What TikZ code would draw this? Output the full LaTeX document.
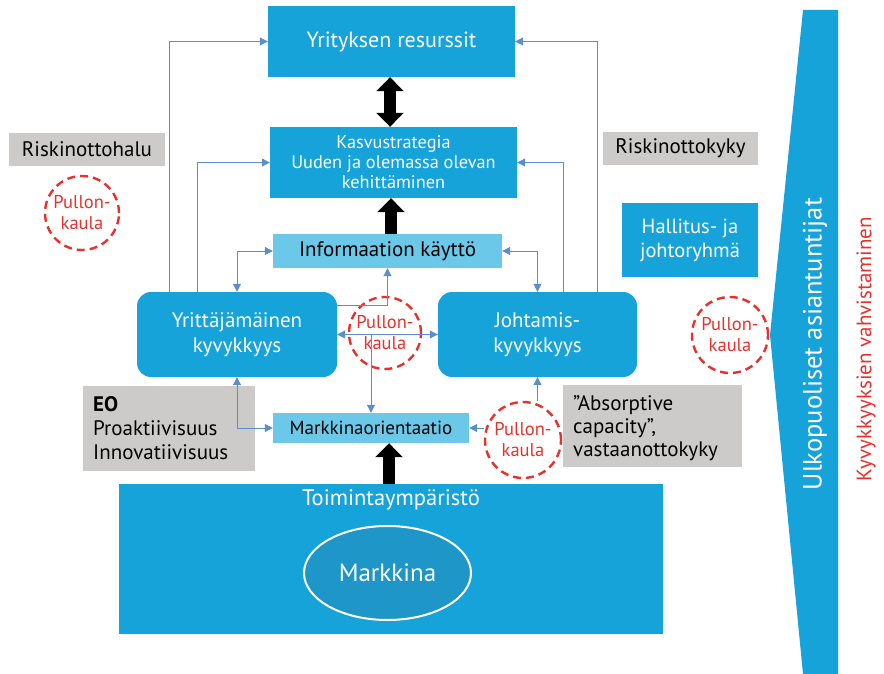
\documentclass[tikz,border=0pt]{standalone}
\usepackage{fontspec}
\setmainfont{PT Sans}
\usetikzlibrary{arrows.meta,shapes.geometric}

\definecolor{kblue}{RGB}{21,163,218}
\definecolor{klight}{RGB}{108,200,232}
\definecolor{kgray}{RGB}{204,203,202}
\definecolor{kline}{RGB}{91,143,201}
\definecolor{kred}{RGB}{232,49,45}
\definecolor{kdark}{RGB}{30,150,200}

\begin{document}
\begin{tikzpicture}[x=1pt, y=-1pt, inner sep=0pt,
    box/.style={rectangle, fill=kblue, text=white, align=center},
    lbox/.style={rectangle, fill=klight, text=black, align=center},
    gbox/.style={rectangle, fill=kgray, text=black},
    rbox/.style={rectangle, rounded corners=14pt, fill=kblue, text=white, align=center,
                 minimum width=200pt, minimum height=85pt, font=\fontsize{21}{25}\selectfont},
    neck/.style={circle, draw=kred, line width=2.4pt, dash pattern=on 8pt off 5pt,
                 text=kred, align=center, font=\fontsize{18.5}{21}\selectfont},
    conn/.style={draw=kline, line width=1pt, >={Triangle[width=8pt,length=8pt]}},
    bigarrow/.style={line width=12pt, >={Triangle[width=27pt,length=14pt]}}]
    \useasboundingbox (0,0) rectangle (884,674);

    % side wedge
    \fill[kblue] (803,10) -- (838,10) -- (838,674) -- (803,674) -- (770,335) -- cycle;
    \node (ulko) at (815,344) [rotate=90, text=white, font=\fontsize{26.5}{30}\selectfont] {Ulkopuoliset asiantuntijat};
    \node (vahv) at (866,349) [rotate=90, text=kred, font=\fontsize{21}{24}\selectfont] {Kyvykkyyksien vahvistaminen};

    % main boxes
    \node (res) at (391.5,41.5) [box, minimum width=247pt, minimum height=71pt, font=\fontsize{22}{26}\selectfont] {Yrityksen resurssit};
    \node (kasvu) at (393.5,162.5) [box, minimum width=247pt, minimum height=71pt, font=\fontsize{18.3}{20}\selectfont]
        {Kasvustrategia\\Uuden ja olemassa olevan\\kehittäminen};
    \node (info) at (387.5,251) [lbox, minimum width=229pt, minimum height=34pt, font=\fontsize{21}{24}\selectfont] {Informaation käyttö};
    \node (yritt) at (237,334.5) [rbox] {Yrittäjämäinen\\kyvykkyys};
    \node (johto) at (537.5,334.5) [rbox, minimum width=199pt] {Johtamis-\\kyvykkyys};
    \node (markkor) at (371,428) [lbox, minimum width=196pt, minimum height=30pt, font=\fontsize{19}{22}\selectfont] {Markkinaorientaatio};
    \node (toim) at (391,559) [box, minimum width=544pt, minimum height=150pt] {};
    \node (toimtxt) at (391,500) [text=white, font=\fontsize{22.5}{26}\selectfont] {Toimintaympäristö};
    \node (markkina) at (387.5,573) [ellipse, draw=white, line width=2pt, fill=kdark, minimum width=167pt, minimum height=94pt,
        text=white, font=\fontsize{25}{30}\selectfont] {Markkina};

    % grey labels
    \node (halu) at (87,149.5) [gbox, minimum width=156pt, minimum height=33pt, font=\fontsize{21}{24}\selectfont] {Riskinottohalu};
    \node (kyky) at (680.5,148.5) [gbox, minimum width=155pt, minimum height=33pt, font=\fontsize{21}{24}\selectfont] {Riskinottokyky};
    \node (hallitus) at (690,240) [box, minimum width=136pt, minimum height=74pt, font=\fontsize{20.5}{24}\selectfont] {Hallitus- ja\\johtoryhmä};
    \node (eo) at (169,428.5) [gbox, minimum width=172pt, minimum height=85pt] {};
    \node (eotxt) at (93,428) [anchor=west, align=left, font=\fontsize{21}{24}\selectfont] {\textbf{EO}\\Proaktiivisuus\\Innovatiivisuus};
    \node (absorp) at (652.5,426) [gbox, minimum width=179pt, minimum height=82pt] {};
    \node (abstxt) at (573,428) [anchor=west, align=left, font=\fontsize{21}{23}\selectfont] {"Absorptive\\capacity",\\vastaanottokyky};

    % bottlenecks
    \node (pk1) at (82,213) [neck, minimum size=74pt] {Pullon-\\kaula};
    \node (pk2) at (385,333) [neck, minimum size=72pt] {Pullon-\\kaula};
    \node (pk3) at (730,335) [neck, minimum size=76pt] {Pullon-\\kaula};
    \node (pk4) at (523,440) [neck, minimum size=76pt] {Pullon-\\kaula};

    % thin connectors
    \draw[conn,->] ([xshift=33pt]yritt.north west) |- (res.west);
    \draw[conn,->] ([xshift=61pt]yritt.north west) |- (kasvu.west);
    \draw[conn,->] ([xshift=-40pt]johto.north east) |- (res.east);
    \draw[conn,->] ([xshift=-74pt]johto.north east) |- (kasvu.east);
    \draw[conn,<->] (info.west) -| (yritt.north);
    \draw[conn,<->] (info.east) -| (johto.north);
    \draw[conn,->] ([yshift=29.5pt]yritt.east) -| (info.south);
    \draw[conn,<->] (yritt.east) -- (johto.west);
    \draw[conn,->] (yritt.east -| markkor.north) -- (markkor.north);
    \draw[conn,<->] (yritt.south) |- (markkor.west);
    \draw[conn,->] (pk4.north -| johto.south) -- (johto.south);
    \draw[conn,->] (pk4.west |- markkor.east) -- (markkor.east);

    % black arrows
    \draw[bigarrow,<->] (res.south -| 390,0) -- (kasvu.north -| 390,0);
    \draw[bigarrow,->] (info.north -| 391,0) -- (kasvu.south -| 391,0);
    \draw[bigarrow,->] (toim.north -| 389,0) -- (markkor.south -| 389,0);
\end{tikzpicture}
\end{document}
